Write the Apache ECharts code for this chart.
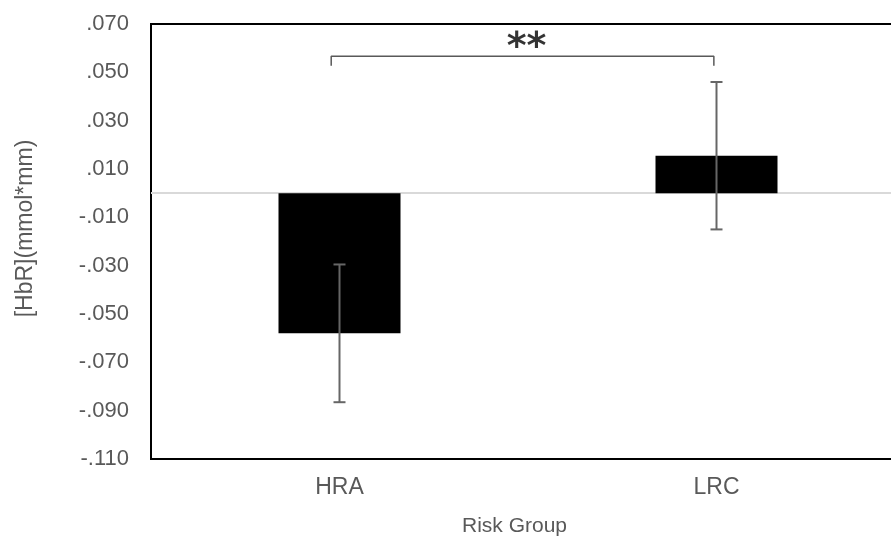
<!DOCTYPE html>
<html>
<head>
<meta charset="utf-8">
<script src="https://cdn.jsdelivr.net/npm/echarts@6/dist/echarts.min.js"></script>
<style>html,body{margin:0;padding:0;background:#fff;}#c{width:891px;height:537px;}</style>
</head>
<body>
<div id="c"></div>
<script>
const categories = ['HRA', 'LRC'];
const means = [-0.058, 0.0155];
const errors = [0.0285, 0.0305];
const yTickValues = [-0.11, -0.09, -0.07, -0.05, -0.03, -0.01, 0.01, 0.03, 0.05, 0.07];
const yTickLabels = ['-.110', '-.090', '-.070', '-.050', '-.030', '-.010', '.010', '.030', '.050', '.070'];
// significance bracket: positions on a 0..2 scale (category i centre = i + 0.5)
const bracketX = [0.478, 1.493];
const bracketY = [0.0527, 0.0567];
const sigLabel = '**';

const chart = echarts.init(document.getElementById('c'));
const font = 'Liberation Sans, Arial, sans-serif';

function tickLabel(v) {
  for (let i = 0; i < yTickValues.length; i++) {
    if (Math.abs(yTickValues[i] - v) < 1e-6) return yTickLabels[i];
  }
  return '';
}

chart.setOption({
  animation: false,
  grid: { left: 151, top: 24, bottom: 78, width: 754, outerBoundsMode: 'none', containLabel: false, show: true, borderColor: '#000', borderWidth: 2, backgroundColor: 'transparent' },
  xAxis: [{
    type: 'category', data: categories, position: 'bottom',
    axisLine: { show: false, onZero: false }, axisTick: { show: false },
    axisLabel: { color: '#595959', fontSize: 23, fontFamily: font, margin: 17 },
    name: 'Risk Group', nameLocation: 'middle', nameGap: 57,
    nameTextStyle: { color: '#595959', fontSize: 21, fontFamily: font, padding: [0, 27, 0, 0] }
  }, {
    type: 'value', min: 0, max: 2, show: false
  }],
  yAxis: {
    type: 'value', min: -0.11, max: 0.07, interval: 0.01,
    axisLine: { show: false }, axisTick: { show: false }, splitLine: { show: false },
    axisLabel: { color: '#595959', fontSize: 22, fontFamily: font, margin: 22, formatter: tickLabel },
    name: '[HbR](mmol*mm)', nameLocation: 'middle', nameGap: 114,
    nameTextStyle: { color: '#595959', fontSize: 23, fontFamily: font, padding: [0, 0, 0, 26] }
  },
  series: [{
    type: 'bar', data: means, barWidth: 122, itemStyle: { color: '#000' }, z: 3,
    markLine: {
      silent: true, symbol: 'none', label: { show: false }, z: 1,
      lineStyle: { color: '#d9d9d9', width: 2, type: 'solid' },
      data: [{ yAxis: 0 }]
    }
  }, {
    type: 'custom', z: 5,
    data: means.map((m, i) => [i, m - errors[i], m + errors[i]]),
    renderItem: function (params, api) {
      const lo = api.coord([api.value(0), api.value(1)]);
      const hi = api.coord([api.value(0), api.value(2)]);
      const w = 6;
      const st = { stroke: '#666666', lineWidth: 2 };
      return { type: 'group', children: [
        { type: 'line', shape: { x1: lo[0], y1: lo[1], x2: hi[0], y2: hi[1] }, style: st },
        { type: 'line', shape: { x1: lo[0] - w, y1: lo[1], x2: lo[0] + w, y2: lo[1] }, style: st },
        { type: 'line', shape: { x1: hi[0] - w, y1: hi[1], x2: hi[0] + w, y2: hi[1] }, style: st }
      ]};
    }
  }, {
    type: 'line', xAxisIndex: 1, symbol: 'none', z: 5,
    lineStyle: { color: '#595959', width: 1.5 },
    data: [[bracketX[0], bracketY[0]], [bracketX[0], bracketY[1]], [bracketX[1], bracketY[1]], [bracketX[1], bracketY[0]]]
  }, {
    type: 'scatter', xAxisIndex: 1, symbolSize: 0, z: 6,
    data: [[(bracketX[0] + bracketX[1]) / 2, bracketY[1]]],
    label: { show: true, position: 'inside', offset: [4, -8], formatter: sigLabel, color: '#000', fontSize: 38, fontWeight: 'bold', fontFamily: 'DejaVu Sans, sans-serif' }
  }]
});
</script>
</body>
</html>
